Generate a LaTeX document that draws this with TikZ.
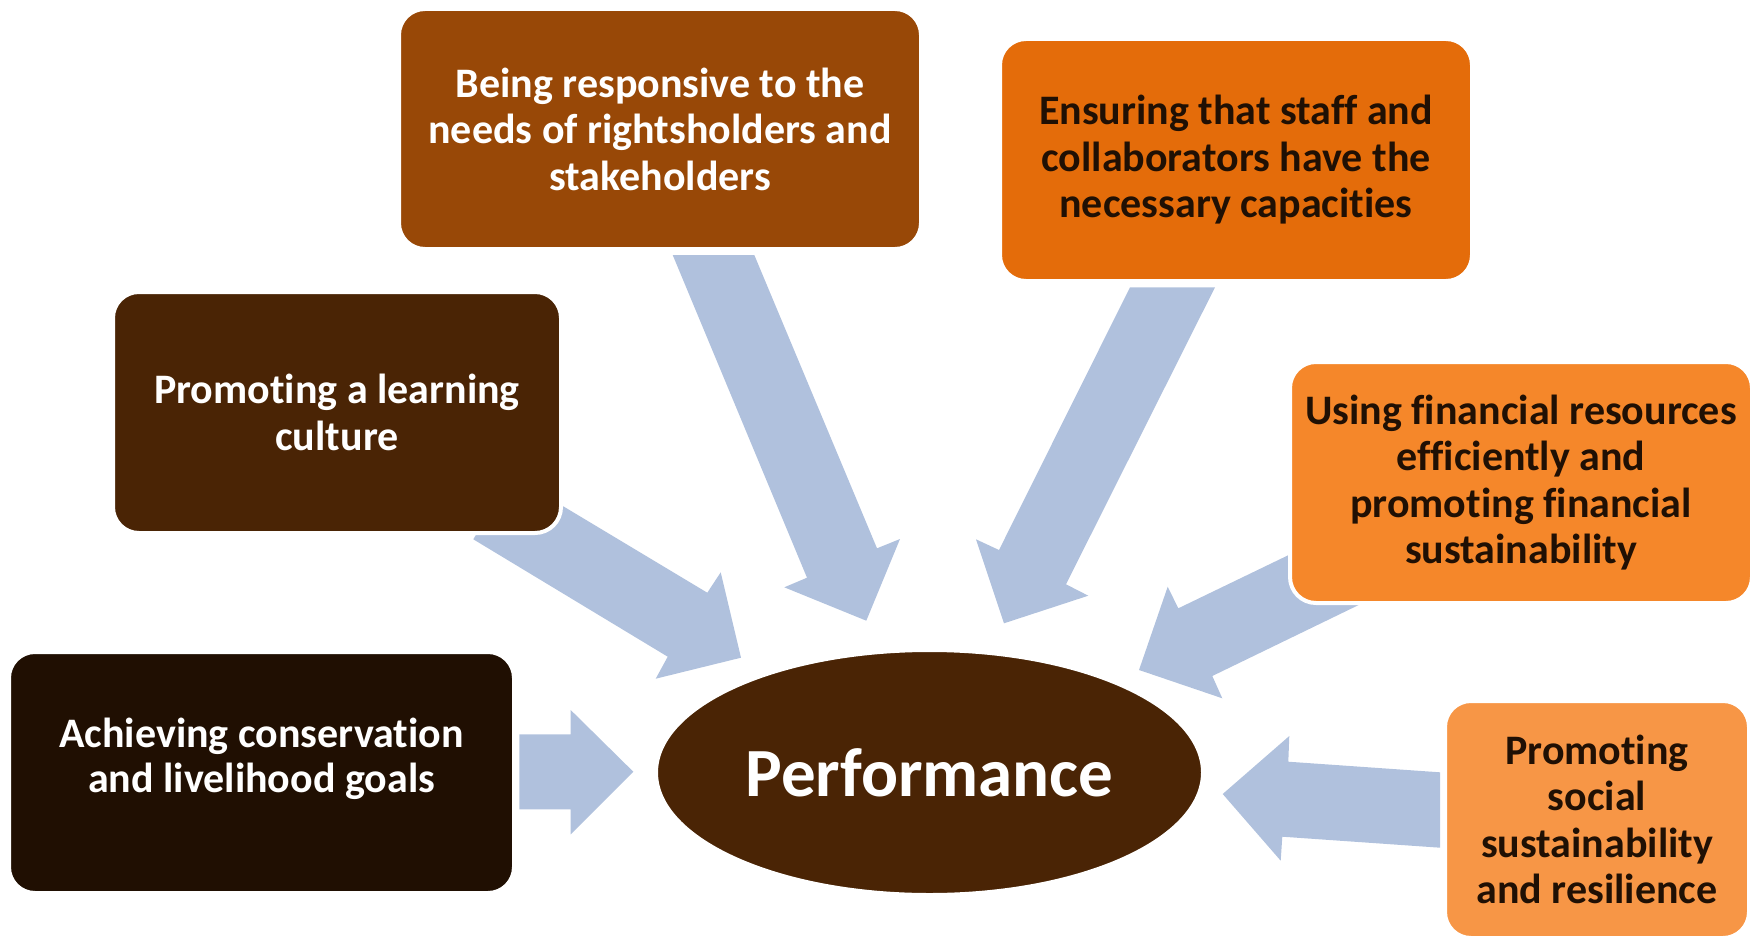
\documentclass[tikz,border=0pt]{standalone}
\usepackage{fontspec}
\setmainfont{Carlito}[Ligatures=NoCommon]
\usetikzlibrary{shapes.geometric}
\definecolor{arrowblue}{RGB}{176,193,221}
\definecolor{cone}{RGB}{152,72,7}
\definecolor{ctwo}{RGB}{228,108,10}
\definecolor{cthree}{RGB}{74,36,5}
\definecolor{cfour}{RGB}{245,135,42}
\definecolor{cfive}{RGB}{32,15,2}
\definecolor{csix}{RGB}{247,150,70}
\definecolor{darktext}{RGB}{32,16,4}
\begin{document}
\begin{tikzpicture}[x=1pt,y=-1pt,
  box/.style={rectangle, rounded corners=26pt, draw=white, line width=4pt,
    align=center, inner sep=0pt,
    font=\fontsize{42pt}{46.5pt}\selectfont\bfseries},
  blockarrow/.style={fill=arrowblue, draw=none},
  txt/.style={align=center, inner sep=0pt,
    font=\fontsize{42pt}{45pt}\selectfont\bfseries}]
\useasboundingbox (0,0) rectangle (1761,939);
% block arrows
\fill[blockarrow] (511.8,475.4) -- (707.3,592.7) -- (720.7,572.3) -- (741,657.7)
  -- (655.7,678.7) -- (667.7,656.7) -- (473.3,539.3) -- cycle;
\fill[blockarrow] (672.7,255) -- (807,577.7) -- (784.3,587.3) -- (866.3,620.7)
  -- (900,539) -- (877,548.3) -- (754.3,255) -- cycle;
\fill[blockarrow] (1130,287.3) -- (999,550) -- (976,539.3) -- (1004,623.3)
  -- (1088.3,595.7) -- (1066,584.3) -- (1215,287.3) -- cycle;
\fill[blockarrow] (1356,522.5) -- (1178.3,608.3) -- (1167.7,586.7) -- (1139,670)
  -- (1222.3,698.3) -- (1212.3,676) -- (1388.8,590.4) -- cycle;
\fill[blockarrow] (1440,772.3) -- (1288.3,761.7) -- (1289.3,736) -- (1222.7,794)
  -- (1280.7,860.7) -- (1282.3,836.7) -- (1440,847.7) -- cycle;
\fill[blockarrow] (519.3,734.3) -- (570.7,734.3) -- (570.7,710) -- (633.3,771.7)
  -- (570.7,834.3) -- (570.7,809.3) -- (519.3,809.3) -- cycle;
% boxes
\node[box, fill=cone, text=white, minimum width=522pt, minimum height=240pt]
  (b1) at (660,129) {Being responsive to the\\needs of rightsholders and\\stakeholders};
\node[box, fill=ctwo, text=darktext, minimum width=472pt, minimum height=242pt]
  (b2) at (1236,160) {Ensuring that staff and\\collaborators have the\\necessary capacities};
\node[box, fill=cthree, text=white, minimum width=448pt, minimum height=241pt]
  (b3) at (337,412.5) {Promoting a learning\\culture};
\node[box, fill=cfour, text=darktext, minimum width=462pt, minimum height=241pt]
  (b4) at (1521,482.5) {Using financial resources\\efficiently and\\promoting financial\\sustainability};
\node[box, fill=cfive, minimum width=505pt, minimum height=241pt]
  (b5) at (261.5,772.5) {};
\node[txt, text=white] (t5) at ([yshift=14pt]b5.center) {Achieving conservation\\and livelihood goals};
\node[box, fill=csix, text=darktext, minimum width=304pt, minimum height=237pt]
  (b6) at (1597,819.5) {Promoting\\social\\sustainability\\and resilience};
% ellipse
\node[ellipse, fill=cthree, draw=white, line width=2pt, inner sep=0pt,
  minimum width=545pt, minimum height=243pt, text=white,
  font=\fontsize{69pt}{80pt}\selectfont\bfseries]
  (perf) at (929.5,772.5) {Performance};
\end{tikzpicture}
\end{document}
